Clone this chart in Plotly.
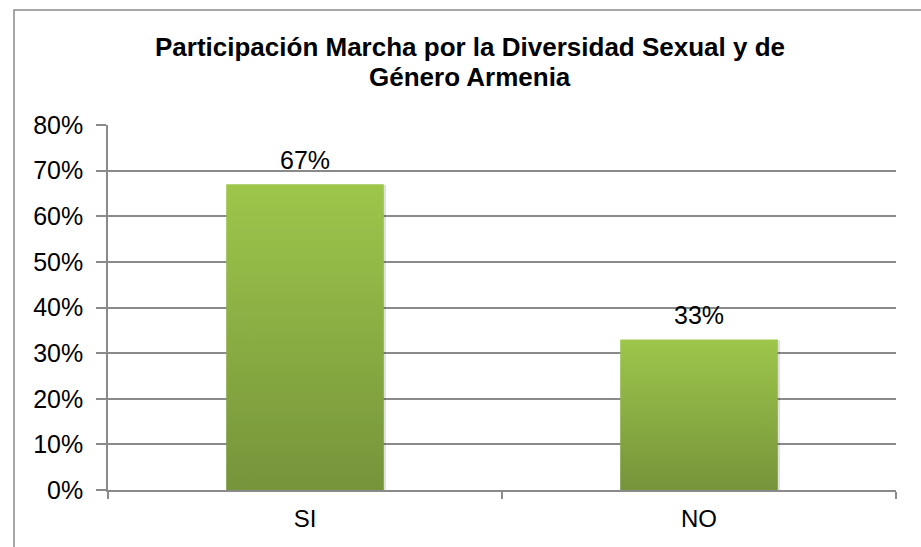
import plotly.graph_objects as go

categories = ["SI", "NO"]
values = [0.67, 0.33]
y_ticks = [0, 0.1, 0.2, 0.3, 0.4, 0.5, 0.6, 0.7, 0.8]
title_lines = ["Participación Marcha por la Diversidad Sexual y de", "Género Armenia"]

BAR_HALF = 0.2
FONT = "Liberation Sans, Arial, sans-serif"
GRID = "#8a8a8a"

fig = go.Figure()

# Bars drawn as filled polygons so they can carry a vertical gradient
for i, (cat, v) in enumerate(zip(categories, values)):
    xs = [i - BAR_HALF, i + BAR_HALF, i + BAR_HALF, i - BAR_HALF, i - BAR_HALF]
    ys = [0, 0, v, v, 0]
    # soft drop shadow
    fig.add_trace(go.Scatter(
        x=[x + 0.006 for x in xs], y=[y - 0.004 if y == 0 else y - 0.002 for y in ys],
        fill="toself", mode="lines", line=dict(width=0),
        fillcolor="rgba(0,0,0,0.12)", hoverinfo="skip", showlegend=False,
    ))
    fig.add_trace(go.Scatter(
        x=xs, y=ys, fill="toself", mode="lines", line=dict(width=0),
        fillgradient=dict(type="vertical",
                          colorscale=[[0, "#76943a"], [1, "#9dc64b"]]),
        name=cat, showlegend=False, hoverinfo="text",
        text=f"{cat}: {v:.0%}",
    ))
    fig.add_annotation(
        x=i, y=v, yanchor="bottom", yshift=8, showarrow=False,
        text=f"{v:.0%}", font=dict(family=FONT, size=25, color="#000000"),
    )

# Two-line bold title
for k, line in enumerate(title_lines):
    fig.add_annotation(
        xref="paper", yref="paper",
        x=(470 - 108) / 788, y=(490 - (47 + 30 * k)) / 365,
        xanchor="center", yanchor="middle", showarrow=False,
        text=f"<b>{line}</b>", font=dict(family=FONT, size=26, color="#000000"),
    )

fig.update_layout(
    width=921, height=547,
    margin=dict(l=108, r=25, t=125, b=57),
    paper_bgcolor="white", plot_bgcolor="white",
    xaxis=dict(
        range=[-0.5, 1.5], tickvals=list(range(len(categories))),
        ticktext=categories, ticks="", showgrid=False, zeroline=False,
        showline=True, linecolor=GRID, linewidth=1.5,
        tickfont=dict(family=FONT, size=24, color="#000000"),
        ticklabelstandoff=6,
        minor=dict(tick0=-0.5, dtick=1, ticks="outside", ticklen=7,
                   tickcolor=GRID, tickwidth=1.5, showgrid=False),
        fixedrange=True,
    ),
    yaxis=dict(
        range=[0, 0.8], tickvals=y_ticks, tickformat=".0%",
        ticks="outside", ticklen=10, tickcolor=GRID, tickwidth=1.5,
        showgrid=True, gridcolor=GRID, gridwidth=1.5, zeroline=False,
        showline=True, linecolor=GRID, linewidth=1.5,
        tickfont=dict(family=FONT, size=25, color="#000000"),
        ticklabelstandoff=8,
        fixedrange=True,
    ),
)

# Chart-area border
fig.add_shape(type="rect", xref="paper", yref="paper",
              x0=(14 - 108) / 788, x1=1.2, y0=-0.3, y1=(490 - 10) / 365,
              line=dict(color="#8a8a8a", width=1.5), layer="below")

fig.write_html("out.html")
